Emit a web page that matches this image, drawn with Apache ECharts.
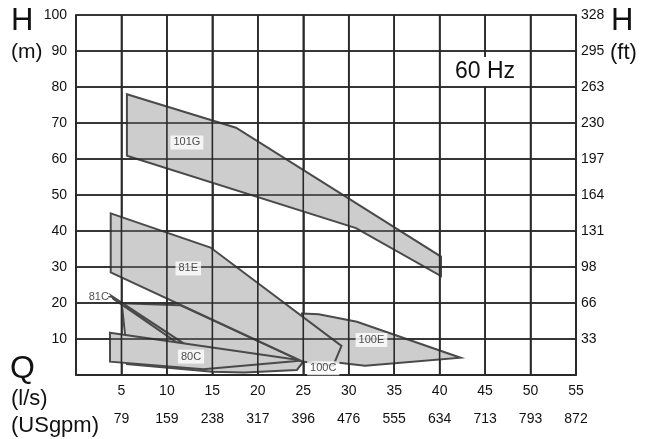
<!DOCTYPE html>
<html><head><meta charset="utf-8">
<script src="https://cdn.jsdelivr.net/npm/echarts@6/dist/echarts.min.js"></script>
<style>html,body{margin:0;padding:0;background:#fff}#c{width:651px;height:439px;background:#fff}</style>
</head><body><div id="c"></div>
<script>
// Axis ticks and tick labels
const flowTicks = [0, 5, 10, 15, 20, 25, 30, 35, 40, 45, 50, 55];
const headTicks = [0, 10, 20, 30, 40, 50, 60, 70, 80, 90, 100];
const flowLabels = ['', '5', '10', '15', '20', '25', '30', '35', '40', '45', '50', '55'];
const usgpmLabels = ['', '79', '159', '238', '317', '396', '476', '555', '634', '713', '793', '872'];
const headLabelsM = ['', '10', '20', '30', '40', '50', '60', '70', '80', '90', '100'];
const headLabelsFt = ['', '33', '66', '98', '131', '164', '197', '230', '263', '295', '328'];

// Pump ranges (Q in l/s, H in m), in drawing order
const pumpNames = ['100E', '100C', '81C', '80C', '81E', '101G'];
const poly100E = [[24.85, 17.1], [26.7, 16.9], [30.9, 14.8], [42.3, 4.8], [31.8, 2.6], [28.7, 3.5], [24.9, 3.8]];
const poly100C = [[5.03, 19.9], [11.45, 19.4], [24.9, 3.75], [24.85, 3.2], [24.3, 1.4], [18.5, 0.7], [15.0, 0.9], [5.6, 3.05], [5.4, 11.1]];
const poly81C = [[3.93, 21.9], [11.7, 9.0], [11.1, 9.0], [4.1, 21.2]];
const poly80C = [[3.74, 11.75], [24.9, 4.0], [14.0, 1.6], [3.74, 3.7]];
const poly81E = [[3.82, 44.9], [14.8, 35.4], [29.2, 8.1], [28.3, 2.6], [24.9, 3.75], [3.82, 28.5]];
const poly101G = [[5.6, 78.0], [17.6, 68.7], [40.15, 32.9], [40.15, 27.5], [30.8, 40.8], [5.6, 60.9]];
const pumpPolys = [poly100E, poly100C, poly81C, poly80C, poly81E, poly101G];

// Label anchors (data units), same order as pumpNames
const labelQ = [32.5, 27.2, 3.95, 12.65, 12.35, 12.2];
const labelH = [9.7, 1.9, 21.6, 5.1, 29.6, 64.6];
const leader81C = [[3.55, 21.75], [4.0, 21.75]];

const chart = echarts.init(document.getElementById('c'), null, {renderer: 'canvas'});
const FONT = 'Liberation Sans, Arial, Helvetica, sans-serif';
const GRID_COLOR = '#2a2a2a';

const polyData = pumpNames.map((n, i) => ({name: n, value: [labelQ[i], labelH[i]]}));
const qMin = flowTicks[0], qMax = flowTicks[flowTicks.length - 1];
const hMin = headTicks[0], hMax = headTicks[headTicks.length - 1];

const option = {
  animation: false,
  grid: {left: 76, right: 75, top: 15, bottom: 64, show: false},
  xAxis: [{
    type: 'value', min: qMin, max: qMax, interval: 5,
    axisLine: {show: true, onZero: false, lineStyle: {color: GRID_COLOR, width: 1.8}},
    axisTick: {show: false},
    splitLine: {show: true, lineStyle: {color: GRID_COLOR, width: 1.6}},
    axisLabel: {margin: 9, fontSize: 14, color: '#111', fontFamily: FONT,
      formatter: v => flowLabels[Math.round(v / 5)] || ''}
  }, {
    type: 'value', min: qMin, max: qMax, interval: 5, position: 'bottom', offset: 28,
    axisLine: {show: false}, axisTick: {show: false}, splitLine: {show: false},
    axisLabel: {margin: 9, fontSize: 14, color: '#111', fontFamily: FONT,
      formatter: v => usgpmLabels[Math.round(v / 5)] || ''}
  }],
  yAxis: [{
    type: 'value', min: hMin, max: hMax, interval: 10,
    axisLine: {show: true, onZero: false, lineStyle: {color: GRID_COLOR, width: 1.8}},
    axisTick: {show: false},
    splitLine: {show: true, lineStyle: {color: GRID_COLOR, width: 1.6}},
    axisLabel: {margin: 9, fontSize: 14, color: '#111', fontFamily: FONT,
      formatter: v => headLabelsM[Math.round(v / 10)] || ''}
  }, {
    type: 'value', min: hMin, max: hMax, interval: 10, position: 'right',
    axisLine: {show: true, onZero: false, lineStyle: {color: GRID_COLOR, width: 1.8}},
    axisTick: {show: false}, splitLine: {show: false},
    axisLabel: {margin: 5, fontSize: 14, color: '#111', fontFamily: FONT,
      formatter: v => headLabelsFt[Math.round(v / 10)] || ''}
  }],
  series: [{
    type: 'custom', name: 'ranges', z: 1, silent: true,
    renderItem: function (params, api) {
      const pts = pumpPolys[params.dataIndex].map(p => api.coord(p));
      return {
        type: 'polygon',
        shape: {points: pts},
        style: {fill: '#cdcdcd', stroke: '#4a4a4a', lineWidth: 2, lineJoin: 'miter'}
      };
    },
    data: polyData
  }, {
    type: 'line', name: 'leader', z: 2, silent: true, symbol: 'none',
    lineStyle: {color: '#4a4a4a', width: 1.5}, data: leader81C
  }, {
    // grid overlay: lines drawn on top of the shaded ranges, as in the original
    type: 'custom', name: 'gridOverlay', z: 3, silent: true,
    renderItem: function (params, api) {
      if (params.dataIndex !== 0) return null;
      const children = [];
      flowTicks.forEach(q => {
        const a = api.coord([q, hMin]), b = api.coord([q, hMax]);
        children.push({type: 'line', shape: {x1: a[0], y1: a[1], x2: b[0], y2: b[1]},
          style: {stroke: GRID_COLOR, lineWidth: 1.6}});
      });
      headTicks.forEach(h => {
        const a = api.coord([qMin, h]), b = api.coord([qMax, h]);
        children.push({type: 'line', shape: {x1: a[0], y1: a[1], x2: b[0], y2: b[1]},
          style: {stroke: GRID_COLOR, lineWidth: 1.6}});
      });
      return {type: 'group', children: children};
    },
    data: [[qMin, hMin]]
  }, {
    type: 'scatter', name: 'labels', z: 10, silent: true, symbolSize: 0,
    data: pumpNames.map((n, i) => {
      const item = {name: n, value: [labelQ[i], labelH[i]]};
      if (n === '81C') item.label = {backgroundColor: 'transparent', align: 'right', position: 'left', distance: 3, padding: 0};
      return item;
    }),
    label: {show: true, position: 'inside', formatter: p => p.name, fontSize: 11, color: '#222',
      fontFamily: FONT, backgroundColor: '#fff', padding: [2, 3, 1, 3]}
  }],
  graphic: [
    {type: 'text', left: 11, top: 6, z: 100, style: {text: 'H', fontSize: 31, fill: '#111', fontFamily: FONT}},
    {type: 'text', left: 11, top: 42, z: 100, style: {text: '(m)', fontSize: 21, fill: '#111', fontFamily: FONT}},
    {type: 'text', left: 611, top: 6, z: 100, style: {text: 'H', fontSize: 31, fill: '#111', fontFamily: FONT}},
    {type: 'text', left: 610, top: 42, z: 100, style: {text: '(ft)', fontSize: 22, fill: '#111', fontFamily: FONT}},
    {type: 'text', left: 10, top: 353, z: 100, style: {text: 'Q', fontSize: 32, fill: '#111', fontFamily: FONT}},
    {type: 'text', left: 11, top: 388, z: 100, style: {text: '(l/s)', fontSize: 22, fill: '#111', fontFamily: FONT}},
    {type: 'text', left: 11, top: 415, z: 100, style: {text: '(USgpm)', fontSize: 22, fill: '#111', fontFamily: FONT}},
    {type: 'text', left: 452, top: 57, z: 100, style: {text: '60 Hz', fontSize: 23, fill: '#111', fontFamily: FONT,
      backgroundColor: '#fff', padding: [3, 3, 3, 3]}}
  ]
};
chart.setOption(option);
</script>
</body></html>
